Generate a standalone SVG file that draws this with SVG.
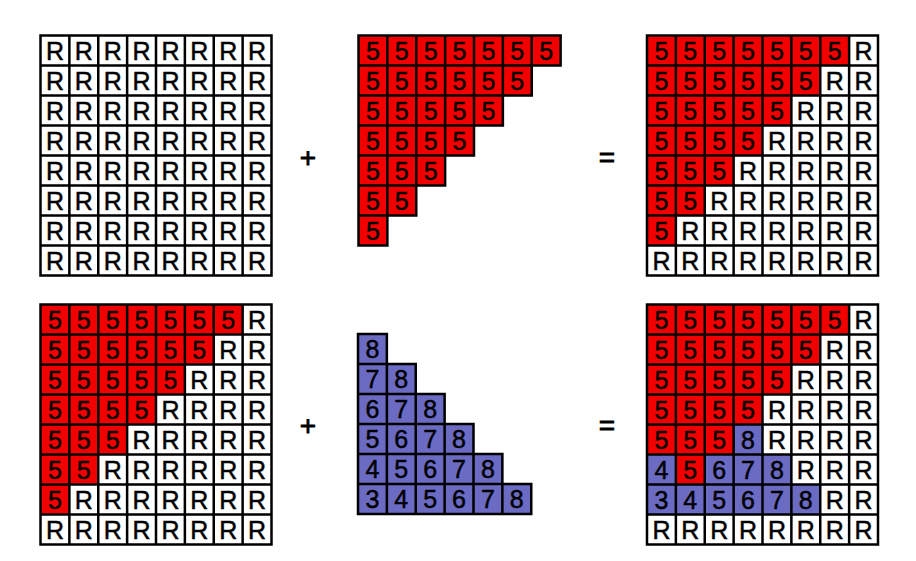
<svg xmlns="http://www.w3.org/2000/svg" xmlns:xlink="http://www.w3.org/1999/xlink" width="916" height="561" viewBox="0 0 916 561">
<style>
.g{fill:none;stroke:#000;stroke-width:2.6;stroke-linejoin:miter}
.t{font-family:"Liberation Sans",Arial,Helvetica,sans-serif;font-size:26px;text-anchor:middle;fill:#000;stroke:#000;stroke-width:0.5}
.op{font-family:"Liberation Sans",Arial,Helvetica,sans-serif;font-size:28px;text-anchor:middle;fill:#000;stroke:#000;stroke-width:0.8}
.red{fill:#f20000}
.blue{fill:#6b6bc4}
.white{fill:#fff}
</style>
<defs>
<path id="grid8" d="M0 0H240V240H0Z M30 0V240 M60 0V240 M90 0V240 M120 0V240 M150 0V240 M180 0V240 M210 0V240 M0 30H240 M0 60H240 M0 90H240 M0 120H240 M0 150H240 M0 180H240 M0 210H240"/>
<path id="stair" d="M0 0H210V30H180V60H150V90H120V120H90V150H60V180H30V210H0Z"/>
</defs>
<rect width="916" height="561" fill="#fff"/>

<g id="grid-R" transform="translate(40.5,35.5) scale(0.9625,1)">
<rect class="white" x="0" y="0" width="240" height="240"/>
<use xlink:href="#grid8" class="g"/>
<text class="t" x="15 45 75 105 135 165 195 225" y="24.5">RRRRRRRR</text>
<text class="t" x="15 45 75 105 135 165 195 225" y="54.5">RRRRRRRR</text>
<text class="t" x="15 45 75 105 135 165 195 225" y="84.5">RRRRRRRR</text>
<text class="t" x="15 45 75 105 135 165 195 225" y="114.5">RRRRRRRR</text>
<text class="t" x="15 45 75 105 135 165 195 225" y="144.5">RRRRRRRR</text>
<text class="t" x="15 45 75 105 135 165 195 225" y="174.5">RRRRRRRR</text>
<text class="t" x="15 45 75 105 135 165 195 225" y="204.5">RRRRRRRR</text>
<text class="t" x="15 45 75 105 135 165 195 225" y="234.5">RRRRRRRR</text>
</g>

<g id="red-triangle" transform="translate(358.5,35.5) scale(0.9625,1)">
<use xlink:href="#stair" class="red"/>
<use xlink:href="#stair" class="g"/>
<path class="g" d="M0 30H180 M0 60H150 M0 90H120 M0 120H90 M0 150H60 M0 180H30 M30 0V180 M60 0V150 M90 0V120 M120 0V90 M150 0V60 M180 0V30"/>
<text class="t" x="15 45 75 105 135 165 195" y="24.5">5555555</text>
<text class="t" x="15 45 75 105 135 165" y="54.5">555555</text>
<text class="t" x="15 45 75 105 135" y="84.5">55555</text>
<text class="t" x="15 45 75 105" y="114.5">5555</text>
<text class="t" x="15 45 75" y="144.5">555</text>
<text class="t" x="15 45" y="174.5">55</text>
<text class="t" x="15" y="204.5">5</text>
</g>

<g id="result-1" transform="translate(647,35.5) scale(0.9625,1)">
<rect class="white" x="0" y="0" width="240" height="240"/>
<use xlink:href="#stair" class="red"/>
<use xlink:href="#grid8" class="g"/>
<text class="t" x="15 45 75 105 135 165 195 225" y="24.5">5555555R</text>
<text class="t" x="15 45 75 105 135 165 195 225" y="54.5">555555RR</text>
<text class="t" x="15 45 75 105 135 165 195 225" y="84.5">55555RRR</text>
<text class="t" x="15 45 75 105 135 165 195 225" y="114.5">5555RRRR</text>
<text class="t" x="15 45 75 105 135 165 195 225" y="144.5">555RRRRR</text>
<text class="t" x="15 45 75 105 135 165 195 225" y="174.5">55RRRRRR</text>
<text class="t" x="15 45 75 105 135 165 195 225" y="204.5">5RRRRRRR</text>
<text class="t" x="15 45 75 105 135 165 195 225" y="234.5">RRRRRRRR</text>
</g>

<g id="grid-5R" transform="translate(40.5,304.5) scale(0.9625,1)">
<rect class="white" x="0" y="0" width="240" height="240"/>
<use xlink:href="#stair" class="red"/>
<use xlink:href="#grid8" class="g"/>
<text class="t" x="15 45 75 105 135 165 195 225" y="24.5">5555555R</text>
<text class="t" x="15 45 75 105 135 165 195 225" y="54.5">555555RR</text>
<text class="t" x="15 45 75 105 135 165 195 225" y="84.5">55555RRR</text>
<text class="t" x="15 45 75 105 135 165 195 225" y="114.5">5555RRRR</text>
<text class="t" x="15 45 75 105 135 165 195 225" y="144.5">555RRRRR</text>
<text class="t" x="15 45 75 105 135 165 195 225" y="174.5">55RRRRRR</text>
<text class="t" x="15 45 75 105 135 165 195 225" y="204.5">5RRRRRRR</text>
<text class="t" x="15 45 75 105 135 165 195 225" y="234.5">RRRRRRRR</text>
</g>

<g id="blue-triangle" transform="translate(358,304) scale(0.9625,1)">
<path class="blue" d="M0 30H30V60H60V90H90V120H120V150H150V180H180V210H0Z"/>
<path class="g" d="M0 30H30V60H60V90H90V120H120V150H150V180H180V210H0Z"/>
<path class="g" d="M0 60H30 M0 90H60 M0 120H90 M0 150H120 M0 180H150 M30 60V210 M60 90V210 M90 120V210 M120 150V210 M150 180V210"/>
<text class="t" x="15" y="54.5">8</text>
<text class="t" x="15 45" y="84.5">78</text>
<text class="t" x="15 45 75" y="114.5">678</text>
<text class="t" x="15 45 75 105" y="144.5">5678</text>
<text class="t" x="15 45 75 105 135" y="174.5">45678</text>
<text class="t" x="15 45 75 105 135 165" y="204.5">345678</text>
</g>

<g id="result-2" transform="translate(647,304.5) scale(0.9625,1)">
<rect class="white" x="0" y="0" width="240" height="240"/>
<rect class="red" x="0" y="0" width="210" height="30"/>
<rect class="red" x="0" y="30" width="180" height="30"/>
<rect class="red" x="0" y="60" width="150" height="30"/>
<rect class="red" x="0" y="90" width="120" height="30"/>
<rect class="red" x="0" y="120" width="90" height="30"/>
<rect class="red" x="30" y="150" width="30" height="30"/>
<rect class="blue" x="90" y="120" width="30" height="30"/>
<rect class="blue" x="0" y="150" width="30" height="30"/>
<rect class="blue" x="60" y="150" width="90" height="30"/>
<rect class="blue" x="0" y="180" width="180" height="30"/>
<use xlink:href="#grid8" class="g"/>
<text class="t" x="15 45 75 105 135 165 195 225" y="24.5">5555555R</text>
<text class="t" x="15 45 75 105 135 165 195 225" y="54.5">555555RR</text>
<text class="t" x="15 45 75 105 135 165 195 225" y="84.5">55555RRR</text>
<text class="t" x="15 45 75 105 135 165 195 225" y="114.5">5555RRRR</text>
<text class="t" x="15 45 75 105 135 165 195 225" y="144.5">5558RRRR</text>
<text class="t" x="15 45 75 105 135 165 195 225" y="174.5">45678RRR</text>
<text class="t" x="15 45 75 105 135 165 195 225" y="204.5">345678RR</text>
<text class="t" x="15 45 75 105 135 165 195 225" y="234.5">RRRRRRRR</text>
</g>

<g id="operators">
<text class="op" x="308" y="167">+</text>
<text class="op" x="607" y="167">=</text>
<text class="op" x="308" y="435">+</text>
<text class="op" x="607" y="435">=</text>
</g>
</svg>
